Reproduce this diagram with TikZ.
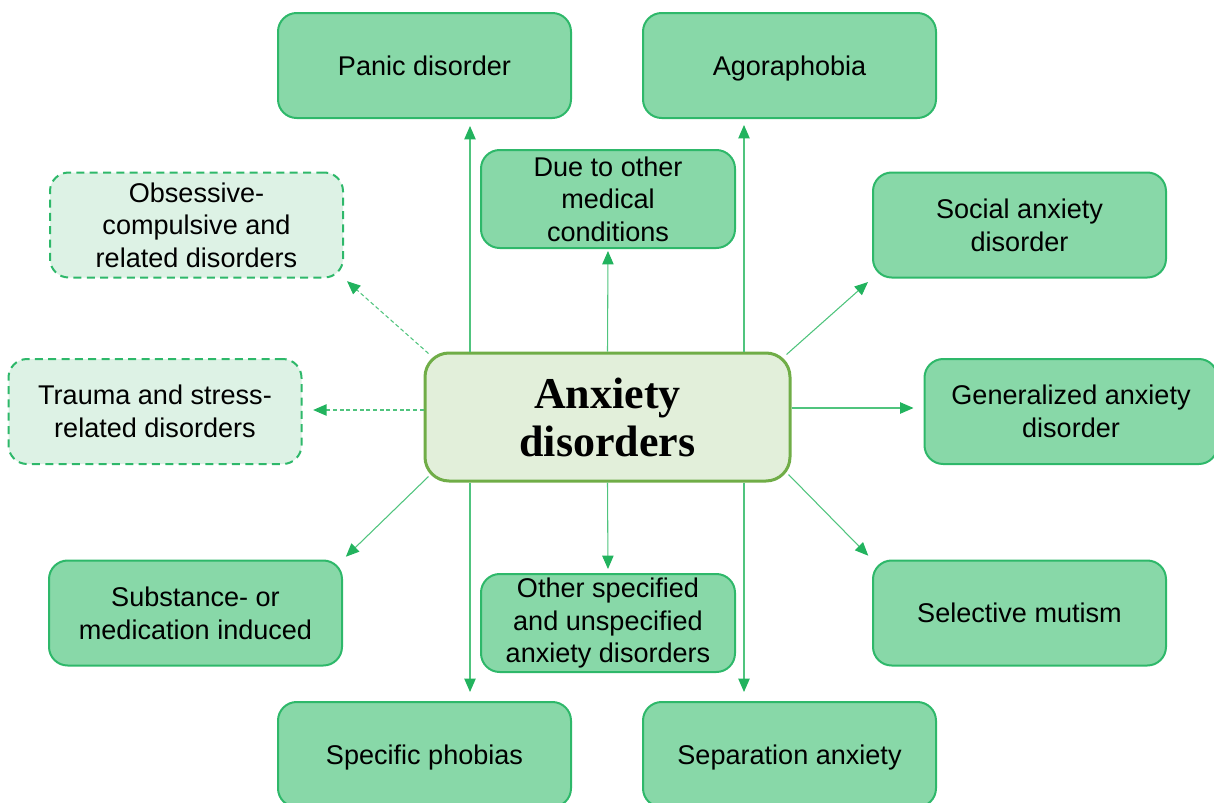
\documentclass[tikz,border=0pt]{standalone}
\usepackage{fontspec}
\setmainfont{Liberation Sans}
\newfontfamily\centerfont{Liberation Serif}
\usetikzlibrary{arrows.meta,calc}
\definecolor{boxfill}{RGB}{136,216,168}
\definecolor{boxline}{RGB}{46,184,106}
\definecolor{dashfill}{RGB}{221,242,229}
\definecolor{cfill}{RGB}{226,239,218}
\definecolor{cline}{RGB}{112,173,71}
\definecolor{arrline}{RGB}{80,196,126}
\definecolor{arrhead}{RGB}{34,179,94}
\begin{document}
\begin{tikzpicture}[x=0.75pt,y=-0.75pt,
  box/.style={draw=boxline, fill=boxfill, line width=1.5pt, rounded corners=14pt,
    minimum width=219.75pt, minimum height=78.75pt, inner sep=0pt, align=center,
    font=\fontsize{20.3}{24.5}\selectfont},
  one/.style={text height=14.6pt, text depth=0pt},
  midbox/.style={box, minimum width=190.5pt, minimum height=73.5pt},
  dbox/.style={box, fill=dashfill, dash pattern=on 6pt off 4pt},
  cbox/.style={draw=cline, fill=cfill, line width=2.25pt, rounded corners=18pt,
    minimum width=273.75pt, minimum height=96pt, inner sep=0pt, align=center,
    font=\centerfont\bfseries\fontsize{33}{36}\selectfont},
  arr/.style={draw=arrline, line width=0.8pt, -{Triangle[length=10pt,width=8.5pt,fill=arrhead,color=arrhead]}},
  darr/.style={arr, dash pattern=on 3pt off 2pt}
]
\useasboundingbox (0,0) rectangle (1214,803);
\clip (0,0) rectangle (1214,803);

\node[box,one] (panic) at (424.5,65.5) {Panic disorder};
\node[box,one] (agora) at (789.5,65.5) {Agoraphobia};
\node[midbox] (due) at (608,199) {Due to other\\medical\\conditions};
\node[dbox] (ocd) at (196.5,225) {Obsessive-\\compulsive and\\related disorders};
\node[box] (social) at (1019.5,225) {Social anxiety\\disorder};
\node[dbox] (trauma) at (155,411.5) {Trauma and stress-\\related disorders};
\node[cbox] (center) at (607.5,417) {Anxiety\\disorders};
\node[box] (gen) at (1071,411.5) {Generalized anxiety\\disorder};
\node[box] (subst) at (195.5,613) {Substance- or\\medication induced};
\node[box,one] (sel) at (1019.5,613) {Selective mutism};
\node[midbox] (other) at (608,623) {Other specified\\and unspecified\\anxiety disorders};
\node[box,one] (spec) at (424.5,754.5) {Specific phobias};
\node[box,one] (sep) at (789.5,754.5) {Separation anxiety};

\coordinate (vl) at (470,0);
\coordinate (vr) at (744,0);
\coordinate (hr) at (0,408);
\coordinate (hl) at (0,410);

\draw[arr, shorten >=7*0.75pt] (center.north -| vl) -- (panic.south -| vl);
\draw[arr, shorten >=9*0.75pt] (center.south -| vl) -- (spec.north -| vl);
\draw[arr, shorten >=6*0.75pt] (center.north -| vr) -- (agora.south -| vr);
\draw[arr, shorten >=9*0.75pt] (center.south -| vr) -- (sep.north -| vr);
\draw[arr, shorten >=1.5pt] (center.north) -- (due.south);
\draw[arr, shorten >=3pt] (center.south) -- (other.north);
\draw[arr, shorten >=4pt] ([shift={(-5,3)}]center.north east) -- (social.south west);
\draw[arr, shorten >=4pt] ([shift={(-3,-8)}]center.south east) -- (sel.north west);
\draw[arr, shorten >=3pt] ([shift={(5,-6)}]center.south west) -- (subst.north east);
\draw[darr, shorten >=3pt] ([shift={(5,2)}]center.north west) -- (ocd.south east);
\draw[arr] (center.east |- hr) -- ([xshift=-7.5pt]gen.west |- hr);
\draw[darr, shorten >=8pt] (center.west |- hl) -- (trauma.east |- hl);
\end{tikzpicture}
\end{document}
